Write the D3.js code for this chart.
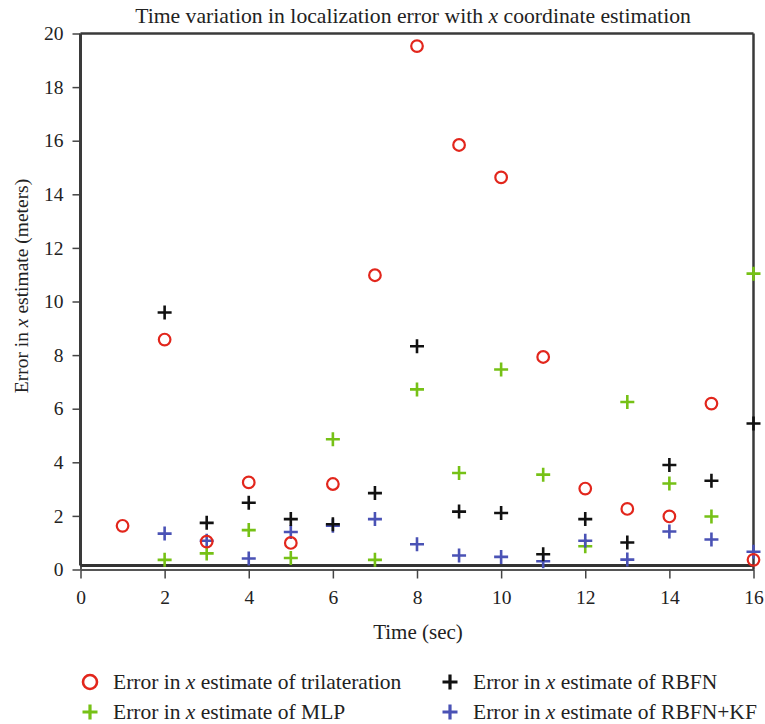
<!DOCTYPE html>
<html>
<head>
<meta charset="utf-8">
<script src="https://cdn.jsdelivr.net/npm/d3@7"></script>
<style>
  body { margin: 0; background: #fff; }
  svg text { font-family: "Liberation Serif", "DejaVu Serif", serif; fill: #222; }
</style>
</head>
<body>
<div id="chart"></div>
<script>
// time steps (sec)
var timeTri = [1, 2, 3, 4, 5, 6, 7, 8, 9, 10, 11, 12, 13, 14, 15, 16];
var timeNet = [2, 3, 4, 5, 6, 7, 8, 9, 10, 11, 12, 13, 14, 15, 16];

// error in x estimate (meters)
var errTrilateration = [1.63, 8.58, 1.04, 3.25, 0.99, 3.19, 10.98, 19.53, 15.84, 14.63, 7.93, 3.02, 2.26, 1.98, 6.19, 0.36];
var errRBFN   = [9.59, 1.74, 2.49, 1.88, 1.69, 2.85, 8.33, 2.16, 2.11, 0.57, 1.88, 1.01, 3.90, 3.31, 5.45];
var errMLP    = [0.36, 0.60, 1.47, 0.43, 4.86, 0.36, 6.72, 3.60, 7.46, 3.54, 0.87, 6.25, 3.21, 1.98, 11.04];
var errRBFNKF = [1.34, 1.07, 0.41, 1.40, 1.63, 1.88, 0.94, 0.52, 0.47, 0.31, 1.07, 0.37, 1.42, 1.12, 0.66];

var xTicks = [0, 2, 4, 6, 8, 10, 12, 14, 16];
var yTicks = [0, 2, 4, 6, 8, 10, 12, 14, 16, 18, 20];
var baseLevel = 0.15; // the dark reference line just above zero

var width = 765, height = 724;
var serif = "'Liberation Serif', 'DejaVu Serif', serif";

var svg = d3.select("#chart").append("svg")
    .attr("width", width)
    .attr("height", height);

var x = d3.scaleLinear().domain([0, 16]).range([80.5, 753.5]);
var y = d3.scaleLinear().domain([0, 20]).range([569.5, 33.5]);

// axes
var xAxis = svg.append("g")
    .attr("transform", "translate(0," + y(0) + ")")
    .call(d3.axisBottom(x).tickValues(xTicks).tickSize(9).tickSizeOuter(0).tickPadding(12));
var yAxis = svg.append("g")
    .attr("transform", "translate(" + x(0) + ",0)")
    .call(d3.axisLeft(y).tickValues(yTicks).tickSize(8).tickSizeOuter(0).tickPadding(9));

[xAxis, yAxis].forEach(function(a) {
  a.attr("font-family", serif).attr("font-size", 19);
  a.select(".domain").attr("stroke", "#555").attr("stroke-width", 2);
  a.selectAll(".tick line").attr("stroke", "#444").attr("stroke-width", 1.5);
  a.selectAll(".tick text")
    .style("font-family", serif)
    .style("font-size", "19.5px")
    .attr("fill", "#222");
});

// box: left, top, right
svg.append("line").attr("x1", x(0)).attr("x2", x(0)).attr("y1", y(20)).attr("y2", y(baseLevel))
    .attr("stroke", "#3a3a3a").attr("stroke-width", 3);
svg.append("line").attr("x1", x(0)).attr("x2", x(16)).attr("y1", y(20)).attr("y2", y(20))
    .attr("stroke", "#3a3a3a").attr("stroke-width", 2.5);
svg.append("line").attr("x1", x(16)).attr("x2", x(16)).attr("y1", y(20)).attr("y2", y(0))
    .attr("stroke", "#3a3a3a").attr("stroke-width", 2.5);
svg.append("line").attr("x1", x(0)).attr("x2", x(16)).attr("y1", y(baseLevel)).attr("y2", y(baseLevel))
    .attr("stroke", "#333").attr("stroke-width", 3);

// markers
function plusPath(s) {
  return "M" + (-s) + ",0H" + s + "M0," + (-s) + "V" + s;
}

function drawPlus(xs, ys, color) {
  svg.append("g").selectAll("path")
    .data(xs.map(function(t, i) { return [t, ys[i]]; }))
    .enter().append("path")
    .attr("transform", function(d) { return "translate(" + x(d[0]) + "," + y(d[1]) + ")"; })
    .attr("d", plusPath(7))
    .attr("fill", "none")
    .attr("stroke", color)
    .attr("stroke-width", 2.6);
}

var colRed = "#e2261c", colGreen = "#76c116", colBlack = "#111111", colBlue = "#4a52b5";

drawPlus(timeNet, errMLP, colGreen);
drawPlus(timeNet, errRBFNKF, colBlue);
drawPlus(timeNet, errRBFN, colBlack);

svg.append("g").selectAll("circle")
  .data(timeTri.map(function(t, i) { return [t, errTrilateration[i]]; }))
  .enter().append("circle")
  .attr("cx", function(d) { return x(d[0]); })
  .attr("cy", function(d) { return y(d[1]); })
  .attr("r", 5.8)
  .attr("fill", "none")
  .attr("stroke", colRed)
  .attr("stroke-width", 2.2);

// title
var title = svg.append("text")
    .attr("x", 413).attr("y", 23)
    .attr("text-anchor", "middle")
    .style("font-size", "21.7px");
title.append("tspan").text("Time variation in localization error with ");
title.append("tspan").style("font-style", "italic").text("x");
title.append("tspan").text(" coordinate estimation");

// axis titles
svg.append("text")
    .attr("x", 418).attr("y", 639)
    .attr("text-anchor", "middle")
    .style("font-size", "21px")
    .text("Time (sec)");

var ylab = svg.append("text")
    .attr("transform", "translate(28,286) rotate(-90)")
    .attr("text-anchor", "middle")
    .style("font-size", "19.5px");
ylab.append("tspan").text("Error in ");
ylab.append("tspan").style("font-style", "italic").text("x");
ylab.append("tspan").text(" estimate (meters)");

// legend
var legendItems = [
  {name: "trilateration", color: colRed, shape: "circle", lx: 90, ly: 682},
  {name: "RBFN", color: colBlack, shape: "plus", lx: 450, ly: 682},
  {name: "MLP", color: colGreen, shape: "plus", lx: 90, ly: 712},
  {name: "RBFN+KF", color: colBlue, shape: "plus", lx: 450, ly: 712}
];

var legend = svg.append("g").selectAll("g")
    .data(legendItems)
    .enter().append("g")
    .attr("transform", function(d) { return "translate(" + d.lx + "," + d.ly + ")"; });

legend.filter(function(d) { return d.shape === "circle"; })
  .append("circle")
  .attr("r", 7)
  .attr("fill", "none")
  .attr("stroke", function(d) { return d.color; })
  .attr("stroke-width", 2.6);

legend.filter(function(d) { return d.shape === "plus"; })
  .append("path")
  .attr("d", plusPath(7.5))
  .attr("fill", "none")
  .attr("stroke", function(d) { return d.color; })
  .attr("stroke-width", 3.2);

var lt = legend.append("text")
    .attr("x", 23).attr("y", 7)
    .style("font-size", "21.5px");
lt.append("tspan").text("Error in ");
lt.append("tspan").style("font-style", "italic").text("x");
lt.append("tspan").text(function(d) { return " estimate of " + d.name; });
</script>
</body>
</html>
